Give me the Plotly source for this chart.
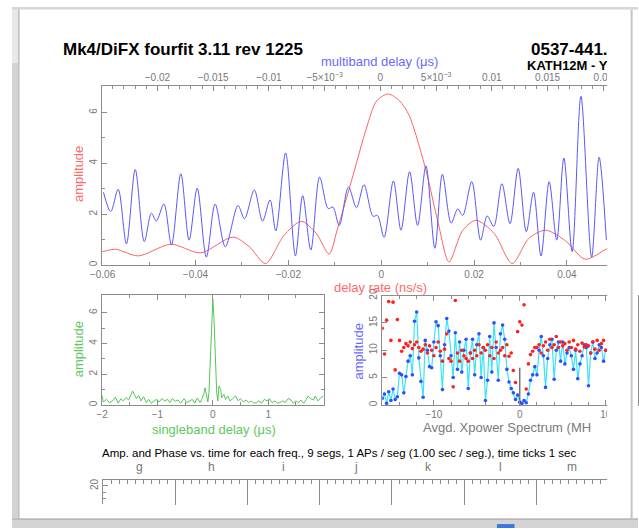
import plotly.graph_objects as go

W, H = 639, 529
def fx(p): return p / W
def fy(p): return 1 - p / H

# ---------------- data ----------------
# main panel: delay-rate function (red), delay rate in ns/s
rate_x = [-0.0601, -0.0572, -0.0523, -0.0453, -0.0389, -0.0319, -0.0284, -0.0249, -0.0210, -0.0172,
          -0.0140, -0.0112, -0.0095, -0.0060, -0.0032, -0.0010, 0.0015, 0.0040, 0.0060, 0.0095,
          0.0123, 0.0146, 0.0175, 0.0204, 0.0243, 0.0282, 0.0318, 0.0354, 0.0397, 0.0439, 0.0488, 0.0520]
rate_amp = [0.52, 0.62, 0.36, 0.82, 0.48, 1.10, 0.72, 0.06, 1.15, 1.72,
            1.25, 0.43, 1.37, 3.57, 5.37, 6.45, 6.73, 6.45, 5.89, 3.82,
            1.63, 0.12, 1.35, 1.76, 1.25, 0.06, 1.05, 1.37, 0.95, 0.23, 0.66, 0.90]

# main panel: multiband delay function (blue), delay in microseconds
mbd_x = [-0.02484, -0.02419, -0.02352, -0.02278, -0.02199, -0.02118, -0.02054, -0.02010, -0.01942, -0.01874,
         -0.01790, -0.01716, -0.01643, -0.01561, -0.01482, -0.01391, -0.01277, -0.01219, -0.01131, -0.01057,
         -0.00990, -0.00938, -0.00850, -0.00762, -0.00697, -0.00624, -0.00545, -0.00468, -0.00426, -0.00369,
         -0.00286, -0.00214, -0.00147, -0.00066, -0.00026, 0.00033, 0.00117, 0.00185, 0.00262, 0.00334,
         0.00409, 0.00489, 0.00556, 0.00635, 0.00694, 0.00738, 0.00820, 0.00899, 0.00958, 0.01017,
         0.01090, 0.01163, 0.01236, 0.01309, 0.01374, 0.01441, 0.01514, 0.01582, 0.01646, 0.01720,
         0.01799, 0.01895, 0.01962, 0.02027]
mbd_amp = [2.86, 2.10, 2.98, 0.83, 3.76, 0.92, 2.04, 1.73, 2.40, 0.79,
           3.59, 0.98, 3.02, 0.31, 2.40, 0.72, 2.34, 1.82, 2.95, 1.73,
           2.56, 1.34, 4.41, 0.36, 2.73, 0.59, 3.46, 2.22, 2.28, 1.56,
           3.07, 2.25, 3.16, 1.92, 1.95, 1.09, 3.31, 1.37, 3.67, 1.56,
           3.90, 0.66, 3.57, 1.65, 2.21, 1.95, 3.28, 0.98, 1.93, 1.52,
           3.20, 1.63, 3.80, 1.31, 2.86, 0.36, 3.28, 0.98, 4.21, 0.53,
           6.64, 0.31, 4.24, 0.98]

# lower-left: singleband delay function (green), microseconds
sbd_x = [-2.00, -1.98, -1.92, -1.87, -1.81, -1.76, -1.71, -1.66, -1.62, -1.57,
         -1.52, -1.49, -1.45, -1.42, -1.38, -1.34, -1.30, -1.25, -1.20, -1.16,
         -1.11, -1.06, -1.01, -0.97, -0.92, -0.87, -0.82, -0.78, -0.73, -0.68,
         -0.63, -0.58, -0.52, -0.47, -0.42, -0.37, -0.33, -0.28, -0.23, -0.20,
         -0.16, -0.14, -0.11, -0.09, -0.07, -0.04, -0.02, 0.00, 0.02, 0.04,
         0.07, 0.09, 0.11, 0.14, 0.16, 0.20, 0.23, 0.27, 0.31, 0.36,
         0.41, 0.46, 0.50, 0.55, 0.60, 0.65, 0.69, 0.74, 0.79, 0.83,
         0.88, 0.93, 0.98, 1.02, 1.07, 1.12, 1.17, 1.21, 1.26, 1.31,
         1.36, 1.40, 1.45, 1.50, 1.55, 1.59, 1.64, 1.69, 1.72, 1.77,
         1.82, 1.85, 1.90, 1.95, 2.00]
sbd_amp = [0.62, 0.19, 0.36, 0.15, 0.26, 0.51, 0.11, 0.41, 0.26, 0.47,
           0.32, 0.58, 0.90, 0.69, 0.41, 0.62, 0.26, 0.53, 0.15, 0.36,
           0.11, 0.26, 0.36, 0.19, 0.41, 0.26, 0.36, 0.15, 0.41, 0.24,
           0.32, 0.11, 0.41, 0.15, 0.26, 0.36, 0.11, 0.45, 0.15, 0.36,
           0.75, 1.11, 0.58, 0.19, 0.79, 3.35, 5.70, 6.88, 5.70, 3.35,
           0.79, 0.26, 1.22, 1.00, 0.47, 0.69, 0.36, 0.58, 0.26, 0.41,
           0.58, 0.26, 0.41, 0.19, 0.32, 0.15, 0.26, 0.11, 0.15, 0.26,
           0.11, 0.36, 0.26, 0.41, 0.15, 0.26, 0.11, 0.15, 0.26, 0.15,
           0.41, 0.36, 0.11, 0.26, 0.15, 0.32, 0.11, 0.36, 0.58, 0.41,
           0.32, 0.58, 0.26, 0.47, 0.58]

# lower-right: averaged cross-power spectrum, frequency in MHz
spec_f = [-16.0, -15.75, -15.5, -15.25, -15.0, -14.75, -14.5, -14.25,
          -14.0, -13.75, -13.5, -13.25, -13.0, -12.75, -12.5, -12.25,
          -12.0, -11.75, -11.5, -11.25, -11.0, -10.75, -10.5, -10.25,
          -10.0, -9.75, -9.5, -9.25, -9.0, -8.75, -8.5, -8.25,
          -8.0, -7.75, -7.5, -7.25, -7.0, -6.75, -6.5, -6.25,
          -6.0, -5.75, -5.5, -5.25, -5.0, -4.75, -4.5, -4.25,
          -4.0, -3.75, -3.5, -3.25, -3.0, -2.75, -2.5, -2.25,
          -2.0, -1.75, -1.5, -1.25, -1.0, -0.75, -0.5, -0.25,
          0.0, 0.25, 0.5, 0.75, 1.0, 1.25, 1.5, 1.75,
          2.0, 2.25, 2.5, 2.75, 3.0, 3.25, 3.5, 3.75,
          4.0, 4.25, 4.5, 4.75, 5.0, 5.25, 5.5, 5.75,
          6.0, 6.25, 6.5, 6.75, 7.0, 7.25, 7.5, 7.75,
          8.0, 8.25, 8.5, 8.75, 9.0, 9.25, 9.5, 9.75, 10.0]
spec_amp = [1.2, 2.0, 0.3, 2.4, 0.8, 2.9, 1.0, 1.5,
            5.8, 5.5, 2.2, 5.2, 8.0, 9.0, 5.5, 15.3,
            17.0, 8.6, 4.3, 1.4, 11.8, 10.0, 7.0, 6.8,
            11.5, 15.2, 14.5, 9.0, 2.8, 11.0, 15.8, 13.5,
            9.0, 5.0, 13.2, 6.5, 11.5, 6.0, 10.0, 12.0,
            3.0, 9.5, 12.0, 5.5, 11.0, 13.0, 5.0, 10.5,
            0.8, 4.5, 12.5, 6.0, 15.0, 10.5, 4.5, 13.0,
            14.6, 12.0, 6.5, 4.2, 3.0, 2.2, 1.0, 1.8,
            0.5, 0.3, 0.8, 0.4, 2.0, 4.5, 5.5, 7.0,
            5.5, 10.0, 12.5, 9.0, 3.2, 8.5, 11.0, 12.0,
            4.7, 10.0, 11.5, 8.0, 11.5, 7.5, 9.5, 10.5,
            9.0, 6.5, 10.0, 4.8, 7.5, 9.0, 11.0, 10.5,
            3.5, 9.5, 11.5, 8.5, 9.5, 11.0, 10.5, 8.0, 10.0]
spec_phase = [14.0, 9.3, 15.5, 18.9, 11.8, 18.8, 6.4, 15.6,
              11.8, 9.8, 10.5, 11.2, 10.8, 11.5, 10.3, 11.0,
              11.5, 10.5, 9.8, 10.2, 11.0, 9.5, 10.8, 10.0,
              9.0, 10.5, 11.5, 9.8, 8.0, 10.2, 13.0, 8.5,
              8.0, 3.3, 19.1, 9.5, 8.0, 10.0, 9.0, 8.5,
              8.0, 9.5, 8.5, 10.0, 9.0, 11.0, 9.5, 10.5,
              10.0, 11.0, 9.0, 10.5, 8.5, 11.5, 9.5, 10.0,
              10.5, 9.0, 11.0, 8.9, 9.5, 6.3, 4.1, 13.4,
              15.2, 14.6, 18.3, 2.9, 7.5, 9.2, 9.8, 10.5,
              10.5, 11.0, 9.5, 10.8, 11.5, 10.0, 12.0, 10.5,
              11.0, 12.5, 10.5, 11.5, 10.8, 11.2, 10.0, 11.5,
              10.5, 11.8, 10.2, 11.0, 9.8, 11.3, 10.6, 11.0,
              10.8, 9.5, 11.5, 10.2, 11.8, 10.0, 11.2, 11.8, 10.0]
dc_f = [0.0, 0.0]
dc_amp = [0.0, 6.8]

# bottom strip: channel letters
channels = ['g', 'h', 'i', 'j', 'k', 'l', 'm']
segs_per_channel = 9

# ---------------- styling ----------------
GREY = '#8c8c8c'
FONT = 'Liberation Sans, Arial, sans-serif'
TICKFONT = dict(family=FONT, size=10, color='#777777')

def ax(**kw):
    base = dict(showline=True, linecolor=GREY, linewidth=1, ticks='inside', tickcolor=GREY,
                ticklen=5, tickwidth=1, tickfont=TICKFONT, showgrid=False, zeroline=False,
                fixedrange=True)
    base.update(kw)
    return base

def minor(vals, ln=3):
    return dict(tickvals=vals, ticks='inside', ticklen=ln, tickcolor=GREY, showgrid=False)

fig = go.Figure()

fig.add_trace(go.Scatter(x=rate_x, y=rate_amp, mode='lines', xaxis='x', yaxis='y',
                         line=dict(color='#ff6060', width=1, shape='spline', smoothing=0.8)))
fig.add_trace(go.Scatter(x=mbd_x, y=mbd_amp, mode='lines', xaxis='x2', yaxis='y',
                         line=dict(color='#5858ff', width=1, shape='spline', smoothing=0.9)))
fig.add_trace(go.Scatter(x=sbd_x, y=sbd_amp, mode='lines', xaxis='x3', yaxis='y3',
                         line=dict(color='#55c655', width=1)))
fig.add_trace(go.Scatter(x=[], y=[], xaxis='x4', yaxis='y4'))
fig.add_trace(go.Scatter(x=spec_f, y=spec_amp, mode='lines+markers', xaxis='x5', yaxis='y5',
                         line=dict(color='#38e4f8', width=1.2),
                         marker=dict(color='#2a50ff', size=3.6)))
fig.add_trace(go.Scatter(x=spec_f, y=spec_phase, mode='markers', xaxis='x5', yaxis='y5',
                         marker=dict(color='#ff2020', size=3.6)))
fig.add_trace(go.Scatter(x=dc_f, y=dc_amp, mode='lines', xaxis='x5', yaxis='y5',
                         line=dict(color='#555555', width=1.2)))

n_seg = segs_per_channel * len(channels)
strip_px = 73.7 / segs_per_channel

fig.update_layout(
    width=W, height=H, margin=dict(l=0, r=0, t=0, b=0),
    paper_bgcolor='white', plot_bgcolor='rgba(0,0,0,0)', showlegend=False,
    font=dict(family=FONT),
    xaxis=ax(domain=[fx(92), 1], range=[-0.0601, 0.0553], anchor='y',
             tickvals=[-0.06, -0.04, -0.02, 0, 0.02, 0.04],
             ticktext=['\u22120.06', '\u22120.04', '\u22120.02', '0', '0.02', '0.04'],
             minor=minor([-0.05, -0.03, -0.01, 0.01, 0.03, 0.05])),
    xaxis2=ax(overlaying='x', side='top', anchor='y', range=[-0.02496, 0.02311],
              tickvals=[-0.02, -0.015, -0.01, -0.005, 0, 0.005, 0.01, 0.015, 0.02],
              ticktext=['\u22120.02', '\u22120.015', '\u22120.01', '\u22125\u00d710<sup>\u22123</sup>', '0',
                        '5\u00d710<sup>\u22123</sup>', '0.01', '0.015', '0.02'],
              minor=minor([i / 1000 for i in range(-24, 24) if i % 5 != 0])),
    yaxis=ax(domain=[fy(262), fy(80)], range=[0, 7.05], anchor='x',
             tickvals=[0, 2, 4, 6], tickangle=-90, minor=minor([1, 3, 5])),
    xaxis3=ax(domain=[fx(92), fx(318)], range=[-2, 2], anchor='y3', mirror='ticks',
              tickvals=[-2, -1, 0, 1], ticktext=['\u22122', '\u22121', '0', '1'],
              minor=minor([-1.5, -0.5, 0.5, 1.5])),
    yaxis3=ax(domain=[fy(404), fy(292)], range=[0, 7.18], anchor='x3', mirror='ticks',
              tickvals=[0, 2, 4, 6], tickangle=-90, minor=minor([1, 3, 5])),
    xaxis4=ax(domain=[fx(93), 1], range=[0, (W - 93) / strip_px], anchor='y4', side='top',
              tickvals=list(range(0, n_seg + 1, segs_per_channel)), ticklen=25, showticklabels=False,
              minor=minor(list(range(0, n_seg + 1)), 4)),
    yaxis4=ax(domain=[fy(505), fy(480)], range=[14, 22], anchor='x4',
              tickvals=[20], tickangle=-90, minor=minor([16, 18], 3)),
    xaxis5=ax(domain=[fx(378), 1], range=[-16, 13.76], anchor='y5', mirror='ticks',
              tickvals=[-10, 0, 10], ticktext=['\u221210', '0', '10'],
              minor=minor([-14, -12, -8, -6, -4, -2, 2, 4, 6, 8, 12])),
    yaxis5=ax(domain=[fy(404), fy(293)], range=[0, 20], anchor='x5', mirror='ticks',
              tickvals=[0, 5, 10, 15, 20], tickangle=-90),
)

ann = []
def text(t, x, y, size, color, xanchor='center', angle=0, bold=False, xref='paper'):
    ann.append(dict(text=('<b>%s</b>' % t) if bold else t, x=x, y=fy(y), xref=xref, yref='paper',
                    xanchor=xanchor, yanchor='middle', showarrow=False, textangle=angle,
                    font=dict(family=FONT, size=size, color=color)))

text('Mk4/DiFX fourfit 3.11 rev 1225', fx(50), 43, 17, 'black', 'left', bold=True)
text('0537-441.', fx(610), 43, 17, 'black', 'right', bold=True)
text('KATH12M - Y', fx(610), 59, 13, 'black', 'right', bold=True)
text('multiband delay (\u03bcs)', fx(375), 55, 13, '#6a6aff')
text('delay rate (ns/s)', fx(376), 285, 13, '#ff6a6a')
text('amplitude', fx(68), 170, 13, '#ff6a6a', angle=-90)
text('amplitude', fx(68), 348, 13, '#60c860', angle=-90)
text('singleband delay (\u03bcs)', fx(206), 429, 13, '#60c860')
text('amplitude', fx(354), 350, 13, '#6a6aff', angle=-90)
text('Avgd. Xpower Spectrum (MH', fx(418), 427, 13, '#7a7a7a', 'left')
text('Amp. and Phase vs. time for each freq., 9 segs, 1 APs / seg (1.00 sec / seg.), time ticks 1 sec',
     fx(90), 453, 11.5, 'black', 'left')
for i, ch in enumerate(channels):
    text(ch, segs_per_channel * (i + 0.5), 467, 12, '#777777', xref='x4')
fig.update_layout(annotations=ann)

def rect(x0, y0, x1, y1, color):
    return dict(type='rect', xref='paper', yref='paper', x0=fx(x0), x1=fx(x1), y0=fy(y1), y1=fy(y0),
                fillcolor=color, line=dict(width=0), layer='above')
def line(x0, y0, x1, y1, color, w=1):
    return dict(type='line', xref='paper', yref='paper', x0=fx(x0), x1=fx(x1), y0=fy(y0), y1=fy(y1),
                line=dict(color=color, width=w), layer='above')

shapes = [
    rect(607.5, 0, 639, 529, 'white'),
    rect(0, 0, 6.5, 529, '#d2d2d2'),
    rect(0, 0, 6.5, 57, '#e8e8e8'),
    rect(0, 0, 639, 2.5, '#d6d6d6'),
    rect(0, 519, 639, 529, '#d4d4d4'),
    line(0, 520, 639, 520, '#b8b8b8', 1.5),
    line(7, 2.5, 7, 520, '#bdbdbd', 1.5),
    line(632.5, 2.5, 632.5, 520, '#c4c4c4', 2),
    rect(495, 525, 513, 529, '#3b78d8'),
]
fig.update_layout(shapes=shapes)

fig.write_html('out.html', config={'displayModeBar': False},
               post_script="document.body.style.margin='0';document.body.style.overflow='hidden';")
